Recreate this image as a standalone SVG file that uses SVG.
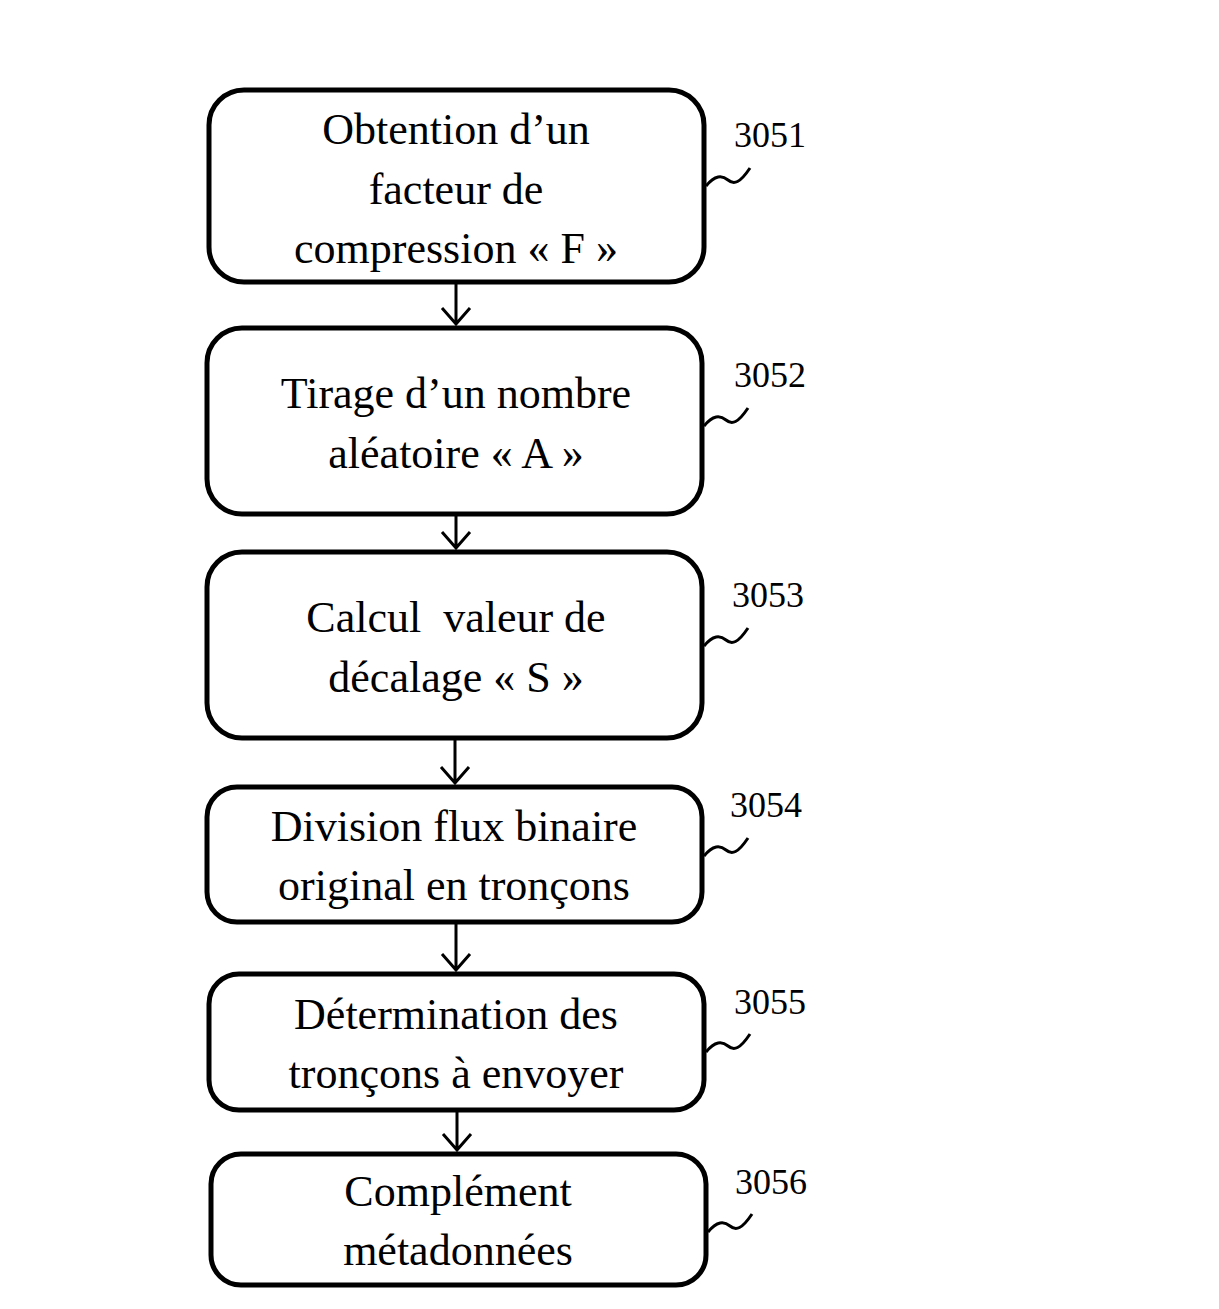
<svg xmlns="http://www.w3.org/2000/svg" width="1219" height="1309" viewBox="0 0 1219 1309">
<style>
.b{fill:#fff;stroke:#000;stroke-width:5}
.t{font-family:"Liberation Serif",serif;font-size:44px;text-anchor:middle}
.n{font-family:"Liberation Serif",serif;font-size:36px}
.c{fill:none;stroke:#000;stroke-width:3}
</style>
<rect width="1219" height="1309" fill="#fff"/>
<g id="connectors" class="c">
<path d="M456 282V324M442 308L456 324L470 308"/>
<path d="M456 514V548M442 532L456 548L470 532"/>
<path d="M455 738V783M441 767L455 783L469 767"/>
<path d="M456 922V970M442 954L456 970L470 954"/>
<path d="M457 1110V1150M443 1134L457 1150L471 1134"/>
</g>
<g id="n1"><rect class="b" x="209" y="90" width="495" height="192" rx="35"/>
<text class="t" x="456" y="144">Obtention d’un</text><text class="t" x="456" y="204">facteur de</text><text class="t" x="456" y="263">compression « F »</text>
<text class="n" x="734" y="147">3051</text><path class="c" d="M706 186C715 175 722 175 728 180S740 183 750 168"/></g>
<g id="n2"><rect class="b" x="207" y="328" width="495" height="186" rx="35"/>
<text class="t" x="456" y="408">Tirage d’un nombre</text><text class="t" x="456" y="468">aléatoire « A »</text>
<text class="n" x="734" y="387">3052</text><path class="c" d="M704 426C713 415 720 415 726 420S738 423 748 408"/></g>
<g id="n3"><rect class="b" x="207" y="552" width="495" height="186" rx="35"/>
<text class="t" x="456" y="632" xml:space="preserve">Calcul  valeur de</text><text class="t" x="456" y="692">décalage « S »</text>
<text class="n" x="732" y="607">3053</text><path class="c" d="M704 646C713 635 720 635 726 640S738 643 748 628"/></g>
<g id="n4"><rect class="b" x="207" y="787" width="495" height="135" rx="30"/>
<text class="t" x="454" y="841">Division flux binaire</text><text class="t" x="454" y="900">original en tronçons</text>
<text class="n" x="730" y="817">3054</text><path class="c" d="M704 856C713 845 720 845 726 850S738 853 748 838"/></g>
<g id="n5"><rect class="b" x="209" y="974" width="495" height="136" rx="30"/>
<text class="t" x="456" y="1029">Détermination des</text><text class="t" x="456" y="1088">tronçons à envoyer</text>
<text class="n" x="734" y="1014">3055</text><path class="c" d="M706 1052C715 1041 722 1041 728 1046S740 1049 750 1034"/></g>
<g id="n6"><rect class="b" x="211" y="1154" width="495" height="131" rx="30"/>
<text class="t" x="458" y="1206">Complément</text><text class="t" x="458" y="1265">métadonnées</text>
<text class="n" x="735" y="1194">3056</text><path class="c" d="M708 1232C717 1221 724 1221 730 1226S742 1229 752 1214"/></g>
</svg>
